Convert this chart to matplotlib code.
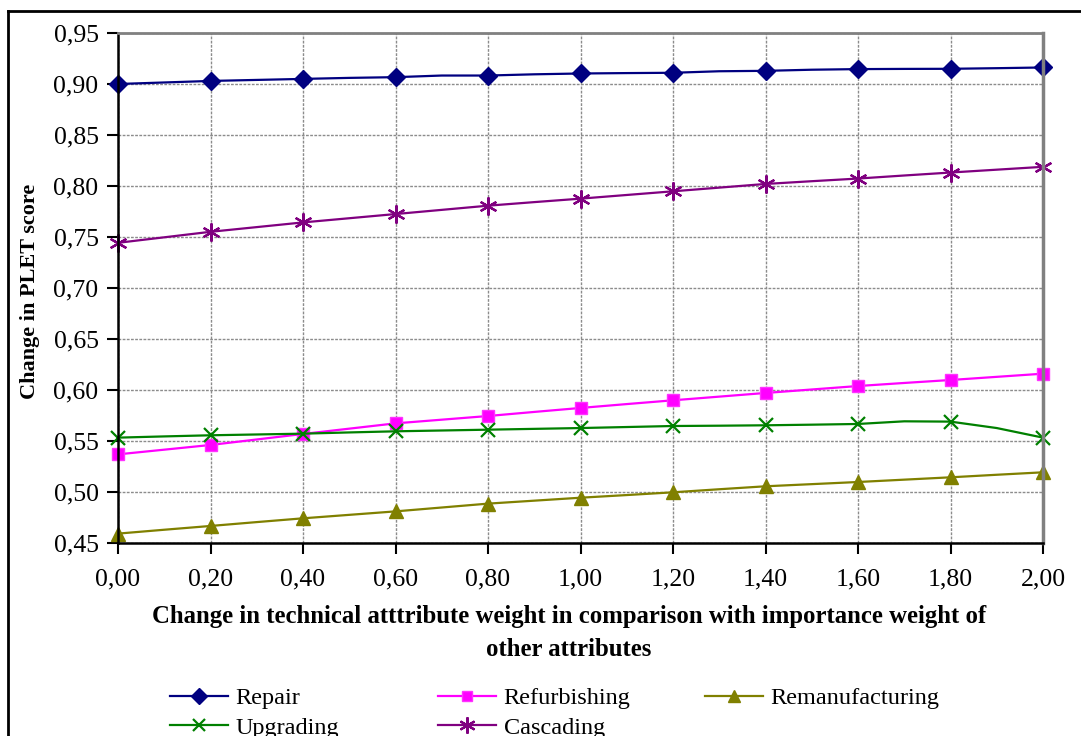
import matplotlib
matplotlib.use("Agg")
import matplotlib.pyplot as plt
from matplotlib.lines import Line2D

plt.rcParams['font.family'] = ['Liberation Serif', 'DejaVu Serif']

# weight change steps (0.1)
x_vals = [0.0, 0.1, 0.2, 0.3, 0.4, 0.5, 0.6, 0.7, 0.8, 0.9, 1.0,
          1.1, 1.2, 1.3, 1.4, 1.5, 1.6, 1.7, 1.8, 1.9, 2.0]

repair = [0.9000, 0.9015, 0.9030, 0.9040, 0.9050, 0.9060, 0.9067, 0.9083, 0.9083, 0.9095, 0.9103,
          0.9107, 0.9110, 0.9125, 0.9129, 0.9140, 0.9146, 0.9148, 0.9149, 0.9155, 0.9162]
refurbishing = [0.5369, 0.5415, 0.5461, 0.5515, 0.5569, 0.5621, 0.5673, 0.5709, 0.5745, 0.5785, 0.5824,
                0.5862, 0.5899, 0.5935, 0.5971, 0.6005, 0.6039, 0.6069, 0.6098, 0.6129, 0.6160]
remanufacturing = [0.4592, 0.4630, 0.4667, 0.4705, 0.4742, 0.4776, 0.4810, 0.4848, 0.4886, 0.4915, 0.4944,
                   0.4970, 0.4997, 0.5027, 0.5056, 0.5077, 0.5098, 0.5121, 0.5144, 0.5169, 0.5193]
upgrading = [0.5533, 0.5545, 0.5556, 0.5564, 0.5572, 0.5584, 0.5595, 0.5603, 0.5611, 0.5619, 0.5627,
             0.5637, 0.5647, 0.5650, 0.5654, 0.5660, 0.5667, 0.5693, 0.5690, 0.5627, 0.5533]
cascading = [0.7443, 0.7497, 0.7551, 0.7597, 0.7643, 0.7684, 0.7725, 0.7766, 0.7807, 0.7842, 0.7876,
             0.7912, 0.7948, 0.7984, 0.8020, 0.8047, 0.8073, 0.8103, 0.8132, 0.8160, 0.8188]

x_ticks = [0.0, 0.2, 0.4, 0.6, 0.8, 1.0, 1.2, 1.4, 1.6, 1.8, 2.0]
x_ticklabels = ['0,00', '0,20', '0,40', '0,60', '0,80', '1,00', '1,20', '1,40', '1,60', '1,80', '2,00']
y_ticks = [0.45, 0.50, 0.55, 0.60, 0.65, 0.70, 0.75, 0.80, 0.85, 0.90, 0.95]
y_ticklabels = ['0,45', '0,50', '0,55', '0,60', '0,65', '0,70', '0,75', '0,80', '0,85', '0,90', '0,95']

W, H = 1081, 736
fig = plt.figure(figsize=(W / 100, H / 100), dpi=100)
ax = fig.add_axes([118 / W, 1 - 543 / H, (1043 - 118) / W, (543 - 33) / H])

lw = 1.6
l_rep, = ax.plot(x_vals, repair, color='#000080', lw=lw, marker='D', ms=9, markevery=2, label='Repair')
l_ref, = ax.plot(x_vals, refurbishing, color='#FF00FF', lw=lw, marker='s', ms=8.5, markevery=2,
                 mec='#FF33FF', label='Refurbishing')
l_rem, = ax.plot(x_vals, remanufacturing, color='#808000', lw=lw, marker='^', ms=10, markevery=2,
                 label='Remanufacturing')
l_upg, = ax.plot(x_vals, upgrading, color='#008000', lw=lw, marker='x', ms=10, mew=1.6, markevery=2,
                 label='Upgrading')
l_cas, = ax.plot(x_vals, cascading, color='#800080', lw=lw, marker=(6, 2, 0), ms=13, mew=1.6, markevery=2,
                 label='Cascading')
for ln in (l_rep, l_ref, l_rem, l_upg, l_cas):
    ln.set_clip_on(False)

ax.set_xlim(0, 2.0)
ax.set_ylim(0.45, 0.95)
ax.set_xticks(x_ticks)
ax.set_xticklabels(x_ticklabels)
ax.set_yticks(y_ticks)
ax.set_yticklabels(y_ticklabels)
ax.tick_params(axis='both', labelsize=18.5, length=8, width=1.5, direction='out', color='black')
ax.tick_params(axis='x', pad=10)
ax.tick_params(axis='y', pad=6)
ax.grid(True, color='#8c8c8c', linestyle=(0, (2, 1)), linewidth=1)
ax.set_axisbelow(True)

ax.spines['left'].set_color('black')
ax.spines['bottom'].set_color('black')
ax.spines['left'].set_linewidth(1.8)
ax.spines['bottom'].set_linewidth(1.8)
ax.spines['top'].set_color('#808080')
ax.spines['right'].set_color('#808080')
ax.spines['top'].set_linewidth(2)
ax.spines['right'].set_linewidth(2.5)

fig.text(569 / W, 1 - 633 / H,
         'Change in technical atttribute weight in comparison with importance weight of\nother attributes',
         ha='center', va='center', fontsize=17.8, fontweight='bold', linespacing=1.55)
fig.text(30 / W, 1 - 291 / H, 'Change in PLET score', rotation=90, ha='center', va='center',
         fontsize=16, fontweight='bold')

# outer frame of the chart object
fig.add_artist(Line2D([8 / W, 8 / W], [0, 1 - 11 / H], color='black', lw=2, transform=fig.transFigure))
fig.add_artist(Line2D([8 / W, 1], [1 - 11 / H, 1 - 11 / H], color='black', lw=2, transform=fig.transFigure))

# legend, three columns laid out like the original
leg_kw = dict(loc='upper left', frameon=False, fontsize=17.5, handlelength=2.4, handletextpad=0.3,
              labelspacing=0.32, borderaxespad=0, borderpad=0)
cols = [([l_rep, l_upg], 170), ([l_ref, l_cas], 438), ([l_rem], 705)]
for handles, xpx in cols:
    lg = fig.legend(handles=handles, labels=[h.get_label() for h in handles],
                    bbox_to_anchor=(xpx / W, 1 - 687 / H), **leg_kw)
    for h in lg.legend_handles:
        h.set_markersize(h.get_markersize() * 0.9)

fig.savefig('out.png', dpi=100)
